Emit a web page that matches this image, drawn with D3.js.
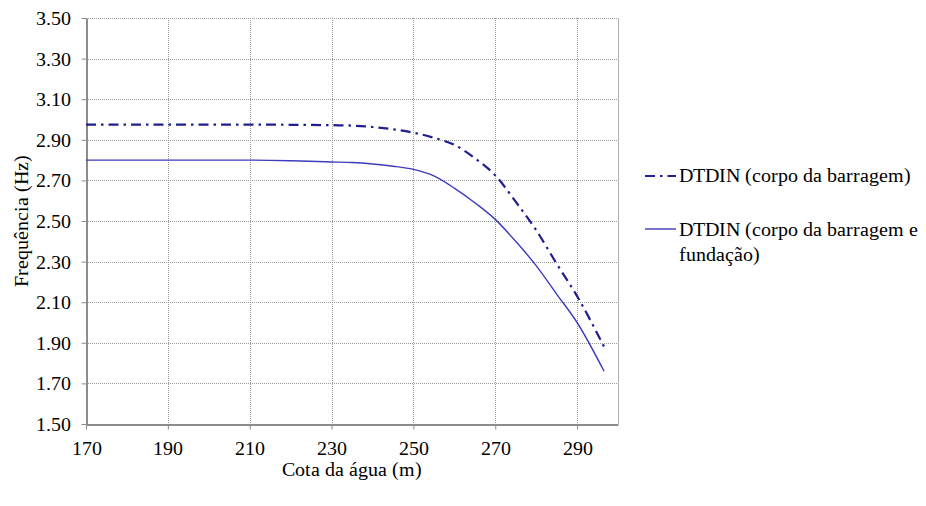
<!DOCTYPE html>
<html><head><meta charset="utf-8">
<script src="https://cdn.jsdelivr.net/npm/d3@7/dist/d3.min.js"></script>
</head><body style="margin:0">
<script>
const cota = [170,180,190,200,210,220,230,235,240,245,250,255,260,265,270,275,280,285,290,296.6];
const corpo = [2.975,2.975,2.975,2.975,2.975,2.974,2.972,2.970,2.963,2.952,2.935,2.910,2.875,2.810,2.725,2.595,2.455,2.290,2.130,1.880];
const corpoFund = [2.800,2.800,2.800,2.800,2.800,2.797,2.791,2.788,2.781,2.770,2.754,2.722,2.662,2.590,2.508,2.400,2.280,2.140,2.000,1.760];
const xTicks = [170,190,210,230,250,270,290];
const yTicks = [1.50,1.70,1.90,2.10,2.30,2.50,2.70,2.90,3.10,3.30,3.50];
const seriesNames = ["DTDIN (corpo da barragem)", ["DTDIN (corpo da barragem e","fundação)"]];
const xTitle = "Cota da água (m)", yTitle = "Frequência (Hz)";

const W=926,H=506,FS=20;
const FONT='"Liberation Serif", "Times New Roman", Tinos, "DejaVu Serif", serif';
const svg=d3.select("body").append("svg").attr("width",W).attr("height",H)
 .style("font-family",FONT).style("font-size",FS+"px");
const x=d3.scaleLinear().domain([170,300]).range([86,618]);
const y=d3.scaleLinear().domain([1.5,3.5]).range([424,18]);

// grid
const grid=svg.append("g").attr("stroke","#9a9a9a").attr("stroke-width",1).attr("stroke-dasharray","1,1");
grid.selectAll(".gx").data(xTicks.slice(1)).enter().append("line")
 .attr("x1",d=>Math.round(x(d))+0.5).attr("x2",d=>Math.round(x(d))+0.5).attr("y1",y(3.5)).attr("y2",y(1.5));
grid.selectAll(".gy").data(yTicks.slice(1)).enter().append("line")
 .attr("y1",d=>Math.round(y(d))+0.5).attr("y2",d=>Math.round(y(d))+0.5).attr("x1",x(170)).attr("x2",x(300));
svg.append("line").attr("x1",x(300)+0.5).attr("x2",x(300)+0.5).attr("y1",y(3.5)).attr("y2",y(1.5)).attr("stroke","#b0b0b0");

// axes
const xAxis=svg.append("g").attr("transform",`translate(0,${Math.round(y(1.5))+0.5})`)
 .call(d3.axisBottom(x).tickValues(xTicks).tickFormat(d3.format("d")).tickSize(5).tickSizeOuter(0).tickPadding(11));
const yAxis=svg.append("g").attr("transform",`translate(${Math.round(x(170))+0.5},0)`)
 .call(d3.axisLeft(y).tickValues(yTicks).tickFormat(d3.format(".2f")).tickSize(5).tickSizeOuter(0).tickPadding(11));
[xAxis,yAxis].forEach(a=>{
 a.attr("font-family",null).attr("font-size",null);
 a.select(".domain").attr("stroke","#8c8c8c").attr("stroke-width",2);
 a.selectAll(".tick line").attr("stroke","#8c8c8c");
 a.selectAll("text").style("font-family",FONT).style("font-size",FS+"px").attr("fill","#000");
});

// lines
const line=d3.line().x(d=>x(d[0])).y(d=>y(d[1])).curve(d3.curveMonotoneX);
svg.append("path").datum(cota.map((c,i)=>[c,corpo[i]])).attr("d",line)
 .attr("fill","none").attr("stroke","#1f1f8f").attr("stroke-width",2.2).attr("stroke-dasharray","10,5,2.5,5");
svg.append("path").datum(cota.map((c,i)=>[c,corpoFund[i]])).attr("d",line)
 .attr("fill","none").attr("stroke","#3c3cbc").attr("stroke-width",1.4);

function txt(xp,yp,s,anchor,tr){
 const t=svg.append("text").attr("x",xp).attr("y",yp);
 if(anchor) t.attr("text-anchor",anchor);
 t.style("font-family",FONT).style("font-size",FS+"px").attr("fill","#000").text(s);
 if(tr) t.attr("transform",tr);
 return t;
}
txt(352,476,xTitle,"middle");
txt(0,0,yTitle,"middle","translate(28,221) rotate(-90)");

// legend
svg.append("line").attr("x1",645).attr("x2",676).attr("y1",176).attr("y2",176).attr("stroke","#1f1f8f").attr("stroke-width",2.2).attr("stroke-dasharray","10,5,2.5,5");
txt(679,182,seriesNames[0]);
svg.append("line").attr("x1",645).attr("x2",676).attr("y1",229).attr("y2",229).attr("stroke","#3c3cbc").attr("stroke-width",1.4);
txt(679,236,seriesNames[1][0]);
txt(679,261,seriesNames[1][1]);

// try to make sure the serif face is used (text is already drawn above)
try {
 const ff=new FontFace("ChartSerif","local('Liberation Serif'), local('LiberationSerif'), local('Liberation Serif Regular'), local('Times New Roman'), local('Tinos')");
 document.fonts.add(ff);
 ff.load().then(()=>{
   svg.selectAll("text").style("font-family",'ChartSerif, '+FONT);
 }).catch(()=>{});
} catch(e) {}
</script>
</body></html>
